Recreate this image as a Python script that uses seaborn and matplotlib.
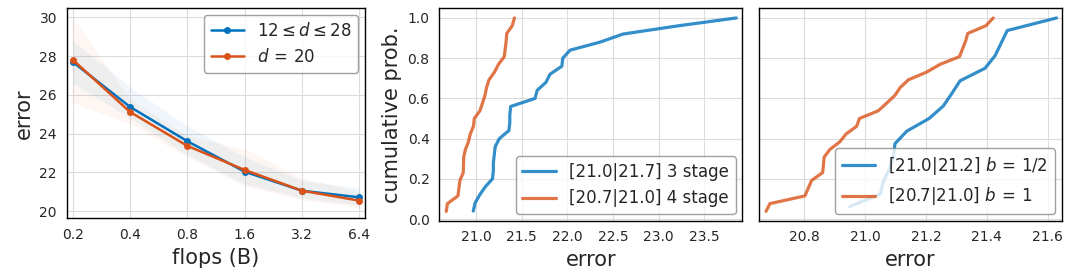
import numpy as np
import pandas as pd
import matplotlib
matplotlib.use("Agg")
import matplotlib.pyplot as plt
import seaborn as sns

# ---------------- data ----------------
flops = [0.2, 0.4, 0.8, 1.6, 3.2, 6.4]
flops_labels = ["0.2", "0.4", "0.8", "1.6", "3.2", "6.4"]
err_range = [27.70, 25.38, 23.61, 22.04, 21.06, 20.72]      # 12 <= d <= 28
err_d20 = [27.81, 25.12, 23.37, 22.13, 21.06, 20.55]        # d = 20
band_range_lo = [26.6, 24.8, 22.9, 21.4, 20.7, 20.3]
band_range_hi = [28.8, 26.4, 24.4, 22.8, 21.6, 21.2]
band_d20_lo = [25.6, 24.5, 22.8, 21.3, 20.6, 20.2]
band_d20_hi = [30.0, 25.8, 23.9, 23.2, 21.7, 21.0]

# sorted errors of sampled models (empirical CDFs)
err_3stage = [20.97, 20.99, 21.04, 21.10, 21.18, 21.19, 21.19, 21.20, 21.21,
              21.255, 21.36, 21.37, 21.37, 21.38, 21.646, 21.67, 21.766, 21.81,
              21.94, 21.95, 22.03, 22.36, 22.61, 23.20, 23.85]
err_4stage = [20.674, 20.687, 20.802, 20.813, 20.824, 20.860, 20.863, 20.865,
              20.884, 20.917, 20.937, 20.972, 20.981, 21.043, 21.071, 21.098,
              21.115, 21.142, 21.202, 21.246, 21.310, 21.320, 21.330, 21.337,
              21.397, 21.421]
err_b_half = [20.95, 21.05, 21.06, 21.08, 21.093, 21.098, 21.137, 21.21,
              21.257, 21.285, 21.312, 21.394, 21.427, 21.447, 21.467, 21.629]
err_b_one = err_4stage

lab_range = r"$12 \leq d \leq 28$"
lab_d20 = r"$d \,=\, 20$"
lab_3stage = "[21.0|21.7] 3 stage"
lab_4stage = "[20.7|21.0] 4 stage"
lab_b_half = r"[21.0|21.2] $b \,=\, 1/2$"
lab_b_one = r"[20.7|21.0] $b \,=\, 1$"

BLUE = "#0072BD"
ORANGE = "#D95319"

sns.set_style("whitegrid", {"axes.edgecolor": "black", "grid.color": "#dcdcdc",
                            "axes.linewidth": 1.0})
plt.rcParams["font.family"] = ["DejaVu Sans"]

fig = plt.figure(figsize=(10.73, 2.75), dpi=100)
W, H = 1073, 275
def box(l, t, r, b):
    return [l / W, 1 - b / H, (r - l) / W, (b - t) / H]

ax1 = fig.add_axes(box(66.7, 8.3, 365, 218.3))
ax2 = fig.add_axes(box(439.3, 8.3, 742.3, 220.7))
ax3 = fig.add_axes(box(759.3, 8.3, 1061.7, 220.7), sharey=ax2)

# ---------------- panel 1 ----------------
ax1.set_xscale("log")
ax1.fill_between(flops, band_d20_lo, band_d20_hi, color=ORANGE, alpha=0.05, lw=0)
ax1.fill_between(flops, band_range_lo, band_range_hi, color=BLUE, alpha=0.06, lw=0)
sns.lineplot(x=flops, y=err_range, ax=ax1, color=BLUE, marker="o", markersize=5,
             markeredgewidth=0, lw=1.8, label=lab_range, estimator=None, sort=False)
sns.lineplot(x=flops, y=err_d20, ax=ax1, color=ORANGE, marker="o", markersize=5,
             markeredgewidth=0, lw=1.8, label=lab_d20, estimator=None, sort=False)
ax1.set_xlim(0.186, 6.85)
ax1.set_ylim(19.64, 30.46)
ax1.set_xticks(flops)
ax1.set_xticklabels(flops_labels)
ax1.xaxis.set_minor_locator(matplotlib.ticker.NullLocator())
ax1.set_yticks([20, 22, 24, 26, 28, 30])
ax1.set_xlabel("flops (B)", fontsize=15)
ax1.set_ylabel("error", fontsize=15)
ax1.legend(loc="upper right", fontsize=12, framealpha=0.8, edgecolor="#888888",
           handlelength=2.0, borderaxespad=0.4)

# ---------------- panel 2 ----------------
cdf = lambda v: np.arange(1, len(v) + 1) / len(v)
sns.lineplot(x=err_3stage, y=cdf(err_3stage), ax=ax2, color=BLUE, alpha=0.8, lw=2.3,
             label=lab_3stage, estimator=None, sort=False)
sns.lineplot(x=err_4stage, y=cdf(err_4stage), ax=ax2, color=ORANGE, alpha=0.8, lw=2.3,
             label=lab_4stage, estimator=None, sort=False)
ax2.set_xlim(20.598, 23.916)
ax2.set_ylim(-0.008, 1.048)
ax2.set_xticks([21.0, 21.5, 22.0, 22.5, 23.0, 23.5])
ax2.set_yticks([0.0, 0.2, 0.4, 0.6, 0.8, 1.0])
ax2.set_xlabel("error", fontsize=15)
ax2.set_ylabel("cumulative prob.", fontsize=15)
ax2.legend(loc="lower right", fontsize=12, framealpha=0.8, edgecolor="#888888",
           borderaxespad=0.4)

# ---------------- panel 3 ----------------
sns.lineplot(x=err_b_half, y=cdf(err_b_half), ax=ax3, color=BLUE, alpha=0.8, lw=2.3,
             label=lab_b_half, estimator=None, sort=False)
sns.lineplot(x=err_b_one, y=cdf(err_b_one), ax=ax3, color=ORANGE, alpha=0.8, lw=2.3,
             label=lab_b_one, estimator=None, sort=False)
ax3.set_xlim(20.652, 21.646)
ax3.set_xticks([20.8, 21.0, 21.2, 21.4, 21.6])
ax3.set_xlabel("error", fontsize=15)
ax3.set_ylabel("")
ax3.tick_params(axis="y", labelleft=False)
ax3.legend(loc="lower right", fontsize=12, framealpha=0.8, edgecolor="#888888",
           borderaxespad=0.4)

for ax in (ax1, ax2, ax3):
    ax.tick_params(labelsize=10)
    ax.grid(True, lw=0.8)
    for s in ax.spines.values():
        s.set_color("black")
        s.set_linewidth(1.0)

fig.savefig("out.png", dpi=100)
